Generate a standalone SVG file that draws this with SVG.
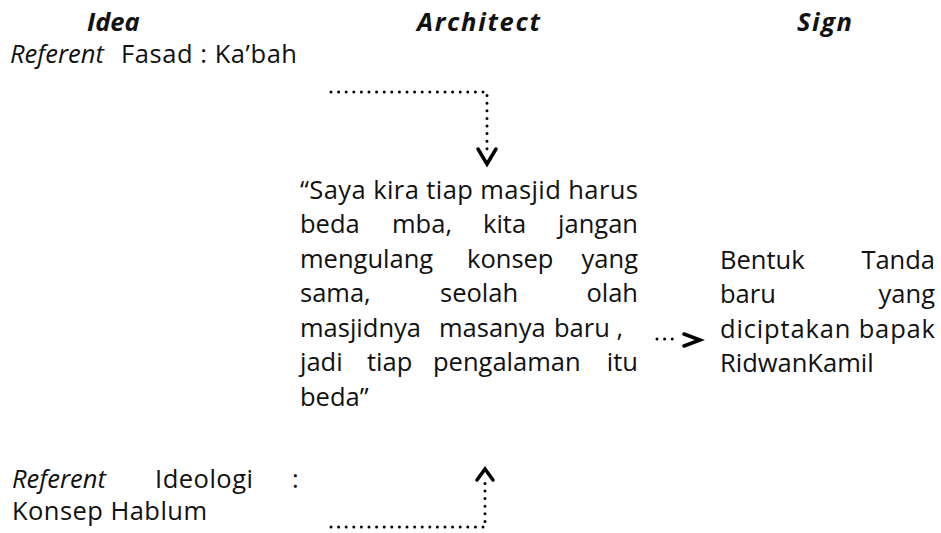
<svg xmlns="http://www.w3.org/2000/svg" width="941" height="533" viewBox="0 0 941 533">
<style>
text{font-family:"Open Sans","Noto Sans","Liberation Sans",sans-serif;font-size:25.5px;fill:#111}
.h{font-weight:bold;font-style:italic}
.i{font-style:italic}
.e{text-anchor:end}
.dot{fill:none;stroke:#000;stroke-width:3;stroke-linecap:round;stroke-dasharray:0 7.6}
.head{fill:none;stroke:#000;stroke-width:3.5;stroke-linecap:round;stroke-linejoin:miter}
</style>
<rect width="941" height="533" fill="#fff"/>
<g id="idea-header"><text class="h" x="87" y="31">Idea</text></g>
<g id="architect-header"><text class="h" x="417" y="31" textLength="123" lengthAdjust="spacing">Architect</text></g>
<g id="sign-header"><text class="h" x="797" y="31" textLength="55" lengthAdjust="spacing">Sign</text></g>
<g id="referent-fasad">
<text class="i" x="10" y="63">Referent</text>
<text x="121" y="63" textLength="176" lengthAdjust="spacing">Fasad : Ka’bah</text>
</g>
<g id="architect-quote">
<text x="300" y="199" textLength="338" lengthAdjust="spacing">“Saya kira tiap masjid harus</text>
<text x="300" y="233">beda</text><text x="392" y="233">mba,</text><text x="483" y="233">kita</text><text class="e" x="638" y="233">jangan</text>
<text x="300" y="268">mengulang</text><text x="467" y="268">konsep</text><text class="e" x="638" y="268">yang</text>
<text x="300" y="302">sama,</text><text x="440" y="302">seolah</text><text class="e" x="638" y="302">olah</text>
<text x="300" y="337">masjidnya</text><text x="439" y="337">masanya</text><text x="554" y="337">baru ,</text>
<text x="300" y="371">jadi</text><text x="367" y="371">tiap</text><text x="433" y="371">pengalaman</text><text class="e" x="638" y="371">itu</text>
<text x="300" y="406">beda”</text>
</g>
<g id="sign-text">
<text x="720" y="269">Bentuk</text><text class="e" x="935" y="269">Tanda</text>
<text x="720" y="303">baru</text><text class="e" x="935" y="303">yang</text>
<text x="720" y="338" textLength="215" lengthAdjust="spacing">diciptakan bapak</text>
<text x="720" y="372">RidwanKamil</text>
</g>
<g id="referent-ideologi">
<text class="i" x="12" y="488">Referent</text>
<text x="155" y="488" textLength="98" lengthAdjust="spacing">Ideologi</text>
<text x="292" y="488">:</text>
<text x="12" y="520" textLength="195" lengthAdjust="spacing">Konsep Hablum</text>
</g>
<g id="connectors">
<path class="dot" d="M331 92 H487 V156"/>
<polyline class="head" points="478,149 487,164 496,149"/>
<path class="dot" d="M657 339 H677"/>
<polyline class="head" points="684,334 700,340 684,346"/>
<path class="dot" d="M331 527 H485 V481"/>
<polyline class="head" points="477,480 485,469 493,480"/>
</g>
</svg>
